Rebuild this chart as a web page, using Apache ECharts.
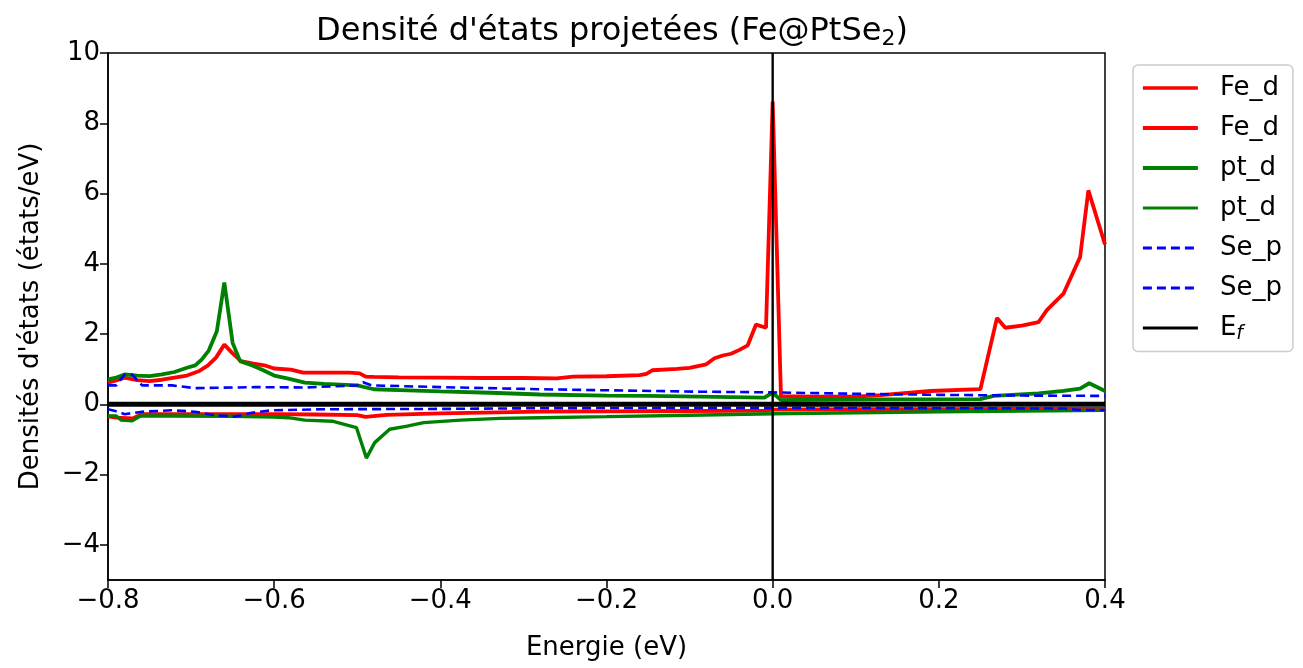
<!DOCTYPE html>
<html>
<head>
<meta charset="utf-8">
<script src="https://cdn.jsdelivr.net/npm/echarts@6/dist/echarts.min.js"></script>
<style>
  html, body { margin: 0; padding: 0; background: #fff; }
  #chart { width: 1303px; height: 668px; }
</style>
</head>
<body>
<div id="chart"></div>
<script>
// Fe_d spin up / spin down
var feUpE = [-0.80, -0.79, -0.78, -0.765, -0.75, -0.735, -0.72, -0.705, -0.69, -0.68, -0.67, -0.66, -0.65, -0.64, -0.625, -0.61, -0.60, -0.58, -0.565, -0.55, -0.53, -0.51, -0.497, -0.49, -0.48, -0.45, -0.40, -0.35, -0.30, -0.26, -0.24, -0.20, -0.16, -0.152, -0.145, -0.115, -0.10, -0.08, -0.07, -0.06, -0.05, -0.04, -0.03, -0.02, -0.008, 0.0, 0.01, 0.05, 0.10, 0.13, 0.19, 0.25, 0.27, 0.28, 0.30, 0.32, 0.33, 0.35, 0.37, 0.38, 0.40];
var feUpV = [0.62, 0.68, 0.76, 0.69, 0.66, 0.70, 0.76, 0.82, 0.95, 1.10, 1.33, 1.70, 1.45, 1.23, 1.16, 1.10, 1.02, 0.99, 0.90, 0.90, 0.90, 0.90, 0.88, 0.79, 0.78, 0.77, 0.76, 0.75, 0.75, 0.74, 0.79, 0.80, 0.83, 0.87, 0.97, 1.01, 1.04, 1.14, 1.31, 1.39, 1.44, 1.55, 1.68, 2.27, 2.18, 8.62, 0.23, 0.22, 0.22, 0.26, 0.38, 0.43, 2.46, 2.18, 2.24, 2.34, 2.68, 3.15, 4.19, 6.09, 4.55];
var feDnE = [-0.80, -0.79, -0.77, -0.76, -0.70, -0.60, -0.55, -0.50, -0.49, -0.465, -0.40, -0.28, -0.20, -0.10, -0.01, 0.0, 0.10, 0.20, 0.30, 0.40];
var feDnV = [-0.34, -0.38, -0.40, -0.28, -0.28, -0.28, -0.29, -0.31, -0.36, -0.30, -0.26, -0.21, -0.20, -0.19, -0.18, -0.15, -0.14, -0.14, -0.13, -0.13];

// pt_d spin up / spin down
var ptUpE = [-0.80, -0.79, -0.78, -0.765, -0.75, -0.735, -0.72, -0.705, -0.695, -0.687, -0.679, -0.669, -0.66, -0.65, -0.641, -0.627, -0.615, -0.60, -0.583, -0.563, -0.54, -0.50, -0.48, -0.44, -0.40, -0.34, -0.28, -0.20, -0.15, -0.088, -0.03, -0.01, 0.0, 0.01, 0.05, 0.13, 0.25, 0.266, 0.32, 0.35, 0.37, 0.381, 0.40];
var ptUpV = [0.71, 0.76, 0.85, 0.82, 0.80, 0.85, 0.92, 1.04, 1.11, 1.28, 1.52, 2.08, 3.47, 1.75, 1.23, 1.11, 0.99, 0.82, 0.73, 0.62, 0.58, 0.54, 0.43, 0.40, 0.37, 0.33, 0.28, 0.25, 0.24, 0.22, 0.20, 0.19, 0.33, 0.12, 0.13, 0.14, 0.15, 0.24, 0.31, 0.38, 0.45, 0.60, 0.38];
var ptDnE = [-0.80, -0.79, -0.784, -0.771, -0.761, -0.72, -0.65, -0.60, -0.583, -0.563, -0.53, -0.501, -0.489, -0.479, -0.461, -0.44, -0.42, -0.376, -0.328, -0.28, -0.20, -0.10, 0.0, 0.10, 0.20, 0.30, 0.40];
var ptDnV = [-0.33, -0.33, -0.45, -0.47, -0.33, -0.33, -0.34, -0.36, -0.38, -0.45, -0.48, -0.66, -1.53, -1.09, -0.71, -0.62, -0.52, -0.45, -0.40, -0.38, -0.35, -0.31, -0.27, -0.24, -0.21, -0.19, -0.17];

// Se_p spin up / spin down
var seUpE = [-0.80, -0.79, -0.78, -0.771, -0.759, -0.723, -0.695, -0.623, -0.563, -0.50, -0.493, -0.483, -0.40, -0.28, -0.20, -0.0875, 0.0, 0.10, 0.20, 0.30, 0.40];
var seUpV = [0.54, 0.54, 0.85, 0.85, 0.54, 0.54, 0.46, 0.49, 0.48, 0.54, 0.63, 0.54, 0.49, 0.43, 0.40, 0.36, 0.34, 0.30, 0.27, 0.25, 0.24];
var seDnE = [-0.80, -0.79, -0.78, -0.759, -0.723, -0.695, -0.671, -0.647, -0.627, -0.603, -0.54, -0.40, -0.28, -0.10, 0.0, 0.20, 0.35, 0.37, 0.40];
var seDnV = [-0.14, -0.20, -0.28, -0.21, -0.17, -0.21, -0.31, -0.35, -0.24, -0.17, -0.14, -0.13, -0.11, -0.10, -0.10, -0.11, -0.12, -0.16, -0.16];

// Fermi level (vertical) and zero line
var efE = [0.0, 0.0];
var efV = [-5, 10];
var zeroE = [-0.8, 0.4];
var zeroV = [0, 0];

var xTicks = [-0.8, -0.6, -0.4, -0.2, 0.0, 0.2, 0.4];
var yTicks = [-4, -2, 0, 2, 4, 6, 8, 10];

var FONT = 'DejaVu Sans';

function pairs(xs, ys) {
    return xs.map(function (x, i) { return [x, ys[i]]; });
}
function minus(s) { return s.replace('-', '\u2212'); }

function lineSeries(name, xs, ys, color, width, dash) {
    return {
        name: name,
        type: 'line',
        data: pairs(xs, ys),
        symbol: 'none',
        showSymbol: false,
        animation: false,
        lineStyle: { color: color, width: width, type: dash || 'solid' },
        itemStyle: { color: color }
    };
}

// legend entry with its own line look
function legendItem(name, color, width, dash) {
    return { name: name, lineStyle: { color: color, width: width, type: dash || 'solid' } };
}

var chart = echarts.init(document.getElementById('chart'));

var series = [
    lineSeries('Fe_d', feUpE, feUpV, '#ff0000', 3.8),
    lineSeries('Fe_d ', feDnE, feDnV, '#ff0000', 3.8),
    lineSeries('pt_d', ptUpE, ptUpV, '#008000', 3.8),
    lineSeries('pt_d ', ptDnE, ptDnV, '#008000', 3.4),
    lineSeries('Se_p', seUpE, seUpV, '#0000ff', 2.6, [9, 5]),
    lineSeries('Se_p ', seDnE, seDnV, '#0000ff', 2.6, [9, 5]),
    lineSeries('E_f', efE, efV, '#000000', 2.4),
    lineSeries('zero', zeroE, zeroV, '#000000', 5)
];

chart.setOption({
    backgroundColor: '#ffffff',
    animation: false,
    textStyle: { fontFamily: FONT },
    title: {
        text: 'Densit\u00e9 d\'\u00e9tats projet\u00e9es (Fe@PtSe{sub|2})',
        left: 607,
        textAlign: 'center',
        top: 9,
        textStyle: {
            fontFamily: FONT, fontSize: 32, fontWeight: 'normal', color: '#000',
            rich: { sub: { fontFamily: FONT, fontSize: 22, color: '#000', padding: [14, 0, 0, 0] } }
        }
    },
    grid: {
        left: 108, right: 198, top: 53, bottom: 88,
        show: true, borderColor: '#000', borderWidth: 1.5, backgroundColor: 'transparent'
    },
    legend: {
        orient: 'vertical',
        left: 1133,
        top: 65,
        data: [
            legendItem('Fe_d', '#ff0000', 3.4),
            legendItem('Fe_d ', '#ff0000', 3.8),
            legendItem('pt_d', '#008000', 3.8),
            legendItem('pt_d ', '#008000', 3),
            legendItem('Se_p', '#0000ff', 2.8, [9, 5]),
            legendItem('Se_p ', '#0000ff', 2.8, [9, 5]),
            legendItem('E_f', '#000000', 2.8)
        ],
        itemWidth: 55,
        itemHeight: 14,
        itemGap: 10,
        padding: [8, 11, 8, 8],
        borderColor: '#cccccc',
        borderWidth: 1.5,
        borderRadius: 5,
        selectedMode: false,
        itemStyle: { opacity: 0 },
        formatter: function (name) {
            return name === 'E_f' ? 'E{f|f}' : name.trim();
        },
        textStyle: {
            fontFamily: FONT, fontSize: 26, color: '#000', lineHeight: 30,
            padding: [0, 0, 0, 17],
            rich: { f: { fontFamily: FONT, fontSize: 19, fontStyle: 'italic', color: '#000', padding: [12, 0, 0, 0] } }
        }
    },
    xAxis: {
        type: 'value',
        min: -0.8,
        max: 0.4,
        interval: 0.2,
        name: 'Energie (eV)',
        nameLocation: 'middle',
        nameGap: 55,
        nameTextStyle: { fontFamily: FONT, fontSize: 26, color: '#000' },
        splitLine: { show: false },
        axisLine: { show: true, onZero: false, lineStyle: { color: '#000', width: 1.5 } },
        axisTick: { show: true, inside: false, length: 8, lineStyle: { color: '#000', width: 1.5 }, customValues: xTicks },
        axisLabel: {
            color: '#000', fontFamily: FONT, fontSize: 26, margin: 8,
            customValues: xTicks,
            formatter: function (v) { return minus(v.toFixed(1)); }
        }
    },
    yAxis: {
        type: 'value',
        min: -5,
        max: 10,
        name: 'Densit\u00e9s d\'\u00e9tats (\u00e9tats/eV)',
        nameLocation: 'middle',
        nameGap: 64,
        nameTextStyle: { fontFamily: FONT, fontSize: 26, color: '#000' },
        splitLine: { show: false },
        axisLine: { show: true, onZero: false, lineStyle: { color: '#000', width: 1.5 } },
        axisTick: { show: true, inside: false, length: 8, lineStyle: { color: '#000', width: 1.5 }, customValues: yTicks },
        axisLabel: {
            color: '#000', fontFamily: FONT, fontSize: 26, margin: 8,
            customValues: yTicks,
            formatter: function (v) { return minus(String(v)); }
        }
    },
    series: series
});
</script>
</body>
</html>
